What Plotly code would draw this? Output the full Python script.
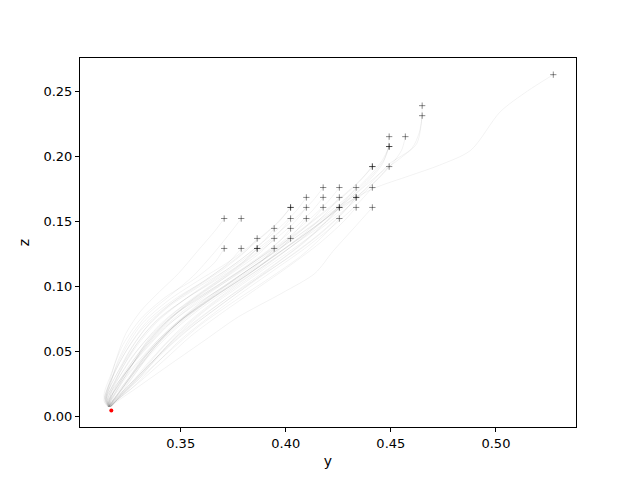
import plotly.graph_objects as go

# start points of the runs
start_y = [0.3707, 0.3788, 0.3864, 0.3864, 0.3945, 0.3864, 0.3945, 0.4023, 0.3945, 0.4023,
           0.3707, 0.3788, 0.4023, 0.4098, 0.4255, 0.4023, 0.4023, 0.4098, 0.4178, 0.4255,
           0.4255, 0.4335, 0.4412, 0.4098, 0.4178, 0.4255, 0.4335, 0.4335, 0.4178, 0.4255,
           0.4335, 0.4412, 0.4412, 0.4412, 0.4492, 0.4492, 0.4492, 0.4492, 0.4569, 0.4649,
           0.4649, 0.5273]
start_z = [0.1291, 0.1291, 0.1291, 0.1291, 0.1291, 0.1368, 0.1368, 0.1368, 0.1445, 0.1445,
           0.1521, 0.1521, 0.1521, 0.1521, 0.1521, 0.1606, 0.1606, 0.1606, 0.1606, 0.1606,
           0.1606, 0.1606, 0.1606, 0.1683, 0.1683, 0.1683, 0.1683, 0.1683, 0.1759, 0.1759,
           0.1759, 0.1759, 0.1920, 0.1920, 0.1920, 0.2074, 0.2074, 0.2150, 0.2150, 0.2311,
           0.2388, 0.2626]

# target point
target_y = [0.317]
target_z = [0.0046]

# rest of each path after its start point
path_y = [
    [0.366, 0.356, 0.343, 0.331, 0.3225, 0.317, 0.3135, 0.3155],
    [0.372, 0.361, 0.347, 0.334, 0.325, 0.318, 0.314, 0.3158],
    [0.379, 0.366, 0.351, 0.337, 0.327, 0.319, 0.3145, 0.316],
    [0.380, 0.369, 0.355, 0.341, 0.330, 0.321, 0.315, 0.316],
    [0.387, 0.374, 0.358, 0.343, 0.332, 0.322, 0.3155, 0.3162],
    [0.381, 0.371, 0.357, 0.343, 0.331, 0.3225, 0.3165, 0.314, 0.3157],
    [0.388, 0.377, 0.362, 0.348, 0.336, 0.326, 0.319, 0.315, 0.316],
    [0.395, 0.383, 0.368, 0.353, 0.340, 0.329, 0.320, 0.3155, 0.3162],
    [0.389, 0.379, 0.366, 0.352, 0.339, 0.329, 0.321, 0.316, 0.316],
    [0.396, 0.385, 0.371, 0.357, 0.344, 0.333, 0.323, 0.3165, 0.3163],
    [0.3665, 0.358, 0.349, 0.340, 0.331, 0.324, 0.3195, 0.316, 0.3135, 0.3155],
    [0.3745, 0.366, 0.356, 0.345, 0.334, 0.326, 0.320, 0.3165, 0.314, 0.3157],
    [0.396, 0.386, 0.373, 0.359, 0.346, 0.335, 0.325, 0.318, 0.3162],
    [0.403, 0.392, 0.378, 0.364, 0.350, 0.338, 0.327, 0.319, 0.3165],
    [0.418, 0.407, 0.392, 0.376, 0.360, 0.346, 0.333, 0.322, 0.3168],
    [0.397, 0.388, 0.376, 0.362, 0.348, 0.336, 0.327, 0.320, 0.315, 0.3158],
    [0.396, 0.386, 0.373, 0.358, 0.344, 0.332, 0.324, 0.318, 0.3145, 0.3156],
    [0.404, 0.394, 0.381, 0.367, 0.353, 0.341, 0.331, 0.322, 0.3165, 0.316],
    [0.411, 0.400, 0.386, 0.371, 0.357, 0.344, 0.333, 0.324, 0.317, 0.3162],
    [0.418, 0.407, 0.393, 0.378, 0.363, 0.349, 0.337, 0.326, 0.318, 0.3164],
    [0.419, 0.409, 0.396, 0.382, 0.367, 0.352, 0.339, 0.328, 0.3195, 0.3166],
    [0.427, 0.416, 0.402, 0.386, 0.370, 0.355, 0.342, 0.330, 0.320, 0.3166],
    [0.432, 0.4225, 0.4139, 0.3982, 0.3773, 0.3616, 0.3459, 0.3297, 0.3188, 0.317],
    [0.405, 0.397, 0.386, 0.373, 0.358, 0.344, 0.333, 0.325, 0.319, 0.3145, 0.3157],
    [0.412, 0.403, 0.391, 0.377, 0.362, 0.348, 0.336, 0.327, 0.320, 0.3155, 0.316],
    [0.419, 0.409, 0.396, 0.381, 0.366, 0.352, 0.340, 0.330, 0.3215, 0.3165, 0.3163],
    [0.426, 0.415, 0.401, 0.386, 0.371, 0.357, 0.344, 0.333, 0.323, 0.3168],
    [0.427, 0.417, 0.404, 0.389, 0.374, 0.360, 0.347, 0.336, 0.326, 0.318, 0.3167],
    [0.413, 0.405, 0.394, 0.381, 0.367, 0.353, 0.340, 0.330, 0.3225, 0.317, 0.3158],
    [0.420, 0.411, 0.399, 0.385, 0.370, 0.356, 0.343, 0.332, 0.323, 0.317, 0.316],
    [0.427, 0.417, 0.404, 0.389, 0.374, 0.360, 0.347, 0.336, 0.326, 0.3185, 0.3164],
    [0.434, 0.423, 0.409, 0.394, 0.379, 0.364, 0.350, 0.338, 0.327, 0.3185, 0.3166],
    [0.436, 0.428, 0.417, 0.404, 0.390, 0.375, 0.360, 0.346, 0.335, 0.327, 0.320, 0.3155, 0.3158],
    [0.435, 0.426, 0.414, 0.400, 0.385, 0.370, 0.355, 0.342, 0.332, 0.324, 0.318, 0.3159],
    [0.443, 0.434, 0.422, 0.408, 0.393, 0.378, 0.363, 0.350, 0.339, 0.329, 0.320, 0.3165],
    [0.447, 0.442, 0.434, 0.423, 0.410, 0.395, 0.380, 0.365, 0.351, 0.339, 0.329, 0.3205, 0.3158],
    [0.446, 0.440, 0.431, 0.419, 0.405, 0.390, 0.375, 0.361, 0.348, 0.337, 0.327, 0.319, 0.3157],
    [0.4485, 0.446, 0.440, 0.431, 0.419, 0.405, 0.390, 0.374, 0.359, 0.345, 0.334, 0.325, 0.318, 0.316],
    [0.4551, 0.450, 0.442, 0.431, 0.418, 0.403, 0.388, 0.372, 0.357, 0.344, 0.333, 0.324, 0.3175, 0.3164],
    [0.4635, 0.460, 0.4495, 0.442, 0.4353, 0.4225, 0.408, 0.393, 0.377, 0.362, 0.348, 0.337, 0.328, 0.3205, 0.3165],
    [0.4645, 0.4623, 0.455, 0.445, 0.434, 0.421, 0.406, 0.390, 0.374, 0.359, 0.346, 0.335, 0.326, 0.319, 0.3162],
    [0.515, 0.502, 0.488, 0.473, 0.459, 0.4415, 0.427, 0.413, 0.399, 0.384, 0.368, 0.354, 0.342, 0.332, 0.323, 0.3168],
]
path_z = [
    [0.118, 0.105, 0.092, 0.075, 0.055, 0.033, 0.016, 0.0075],
    [0.117, 0.104, 0.090, 0.073, 0.053, 0.032, 0.015, 0.0075],
    [0.118, 0.104, 0.089, 0.071, 0.051, 0.031, 0.015, 0.0072],
    [0.119, 0.106, 0.090, 0.072, 0.052, 0.031, 0.015, 0.0075],
    [0.117, 0.103, 0.087, 0.069, 0.050, 0.030, 0.015, 0.0075],
    [0.127, 0.114, 0.099, 0.084, 0.066, 0.046, 0.026, 0.013, 0.0073],
    [0.126, 0.113, 0.097, 0.081, 0.063, 0.044, 0.025, 0.012, 0.0072],
    [0.125, 0.110, 0.094, 0.077, 0.060, 0.041, 0.023, 0.012, 0.0074],
    [0.134, 0.121, 0.106, 0.090, 0.073, 0.054, 0.034, 0.017, 0.0075],
    [0.133, 0.119, 0.103, 0.087, 0.070, 0.051, 0.032, 0.016, 0.0075],
    [0.143, 0.127, 0.110, 0.096, 0.081, 0.064, 0.045, 0.026, 0.012, 0.0075],
    [0.143, 0.126, 0.108, 0.093, 0.078, 0.061, 0.042, 0.024, 0.011, 0.0073],
    [0.140, 0.126, 0.110, 0.094, 0.077, 0.058, 0.038, 0.019, 0.0075],
    [0.139, 0.124, 0.108, 0.091, 0.074, 0.055, 0.036, 0.018, 0.0075],
    [0.139, 0.123, 0.106, 0.089, 0.071, 0.052, 0.033, 0.017, 0.0075],
    [0.150, 0.137, 0.121, 0.105, 0.090, 0.073, 0.054, 0.034, 0.016, 0.0074],
    [0.149, 0.135, 0.119, 0.104, 0.089, 0.072, 0.053, 0.033, 0.015, 0.0073],
    [0.149, 0.135, 0.119, 0.102, 0.086, 0.068, 0.049, 0.029, 0.014, 0.0074],
    [0.148, 0.133, 0.117, 0.100, 0.083, 0.065, 0.046, 0.027, 0.013, 0.0075],
    [0.148, 0.132, 0.115, 0.098, 0.080, 0.062, 0.043, 0.025, 0.012, 0.0075],
    [0.149, 0.134, 0.118, 0.101, 0.083, 0.065, 0.046, 0.028, 0.014, 0.0076],
    [0.149, 0.133, 0.116, 0.098, 0.080, 0.062, 0.043, 0.026, 0.013, 0.0075],
    [0.144, 0.127, 0.110, 0.0948, 0.0764, 0.0587, 0.0411, 0.0227, 0.0104, 0.0076],
    [0.158, 0.145, 0.130, 0.114, 0.099, 0.084, 0.067, 0.048, 0.028, 0.013, 0.0074],
    [0.157, 0.143, 0.127, 0.111, 0.095, 0.079, 0.061, 0.042, 0.023, 0.011, 0.0074],
    [0.156, 0.141, 0.125, 0.108, 0.092, 0.075, 0.057, 0.038, 0.020, 0.0095, 0.0075],
    [0.155, 0.139, 0.122, 0.105, 0.088, 0.071, 0.053, 0.035, 0.019, 0.0076],
    [0.156, 0.141, 0.125, 0.109, 0.093, 0.077, 0.060, 0.041, 0.023, 0.011, 0.0075],
    [0.166, 0.153, 0.138, 0.122, 0.106, 0.091, 0.076, 0.058, 0.038, 0.019, 0.0074],
    [0.165, 0.151, 0.135, 0.119, 0.103, 0.087, 0.070, 0.051, 0.031, 0.015, 0.0074],
    [0.164, 0.149, 0.132, 0.115, 0.098, 0.081, 0.063, 0.044, 0.025, 0.012, 0.0075],
    [0.163, 0.147, 0.129, 0.112, 0.095, 0.077, 0.059, 0.040, 0.022, 0.011, 0.0075],
    [0.182, 0.170, 0.155, 0.139, 0.123, 0.107, 0.092, 0.077, 0.060, 0.040, 0.021, 0.010, 0.0074],
    [0.181, 0.168, 0.152, 0.135, 0.119, 0.103, 0.088, 0.071, 0.052, 0.032, 0.016, 0.0074],
    [0.181, 0.167, 0.151, 0.134, 0.117, 0.100, 0.083, 0.065, 0.046, 0.027, 0.013, 0.0075],
    [0.198, 0.187, 0.174, 0.158, 0.141, 0.124, 0.107, 0.091, 0.075, 0.057, 0.037, 0.018, 0.0074],
    [0.197, 0.185, 0.171, 0.155, 0.138, 0.121, 0.105, 0.089, 0.071, 0.052, 0.032, 0.015, 0.0074],
    [0.205, 0.194, 0.182, 0.168, 0.152, 0.135, 0.118, 0.101, 0.085, 0.068, 0.049, 0.029, 0.013, 0.0075],
    [0.2045, 0.193, 0.180, 0.165, 0.148, 0.131, 0.114, 0.097, 0.080, 0.062, 0.043, 0.024, 0.011, 0.0075],
    [0.218, 0.206, 0.1944, 0.182, 0.171, 0.156, 0.139, 0.122, 0.105, 0.088, 0.071, 0.052, 0.032, 0.015, 0.0075],
    [0.225, 0.2096, 0.199, 0.187, 0.172, 0.156, 0.139, 0.121, 0.104, 0.087, 0.069, 0.050, 0.030, 0.014, 0.0075],
    [0.250, 0.234, 0.2045, 0.193, 0.185, 0.175, 0.162, 0.144, 0.126, 0.108, 0.090, 0.072, 0.054, 0.035, 0.018, 0.0076],
]

fig = go.Figure()

# faint trajectories
for i in range(len(start_y)):
    fig.add_trace(
        go.Scatter(
            x=[start_y[i]] + path_y[i],
            y=[start_z[i]] + path_z[i],
            mode="lines",
            line=dict(color="rgba(0,0,0,0.08)", width=0.7, shape="spline", smoothing=0.8),
            hoverinfo="skip",
            showlegend=False,
        )
    )

# start markers
fig.add_trace(
    go.Scatter(
        x=start_y,
        y=start_z,
        mode="markers",
        marker=dict(symbol="cross-thin", size=4.5, line=dict(width=1, color="rgba(0,0,0,0.45)")),
        showlegend=False,
    )
)

# target
fig.add_trace(
    go.Scatter(
        x=target_y,
        y=target_z,
        mode="markers",
        marker=dict(symbol="circle", size=4, color="red"),
        showlegend=False,
    )
)

axis_style = dict(
    showgrid=False,
    zeroline=False,
    showline=True,
    linecolor="black",
    linewidth=1,
    mirror=True,
    ticks="outside",
    ticklen=4,
    tickwidth=1,
    tickcolor="black",
    tickformat=".2f",
    tickfont=dict(family="DejaVu Sans", size=13, color="black"),
)

# the page puts the figure 8px in from the corner, so the margins allow for it
fig.update_layout(
    width=632,
    height=472,
    margin=dict(l=72, r=64, t=50, b=53),
    paper_bgcolor="white",
    plot_bgcolor="white",
    font=dict(family="DejaVu Sans", size=13, color="black"),
    xaxis=dict(
        axis_style,
        range=[0.3021, 0.5381],
        tickvals=[0.35, 0.40, 0.45, 0.50],
        title=dict(text="y", standoff=6, font=dict(size=14)),
    ),
    yaxis=dict(
        axis_style,
        range=[-0.00805, 0.2754],
        tickvals=[0.00, 0.05, 0.10, 0.15, 0.20, 0.25],
        title=dict(text="z", standoff=10, font=dict(size=14)),
    ),
)

fig.write_html("out.html")
